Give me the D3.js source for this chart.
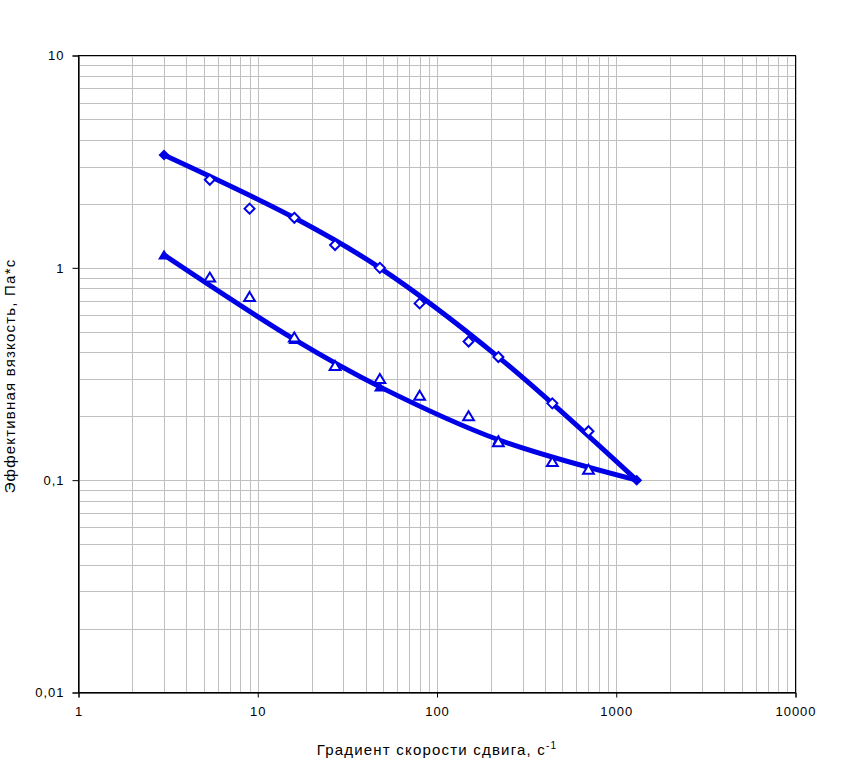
<!DOCTYPE html>
<html><head><meta charset="utf-8">
<script src="https://cdn.jsdelivr.net/npm/d3@7"></script>
<style>body{margin:0;background:#fff}svg{display:block}text{font-family:"Liberation Sans",Arial,sans-serif;fill:#000}</style>
</head><body>
<script>
// Measured data (open markers)
const dataX = [5.4, 9, 16, 27, 48, 80, 150, 220, 440, 700];
const diamondY = [2.6, 1.9, 1.72, 1.28, 1.0, 0.68, 0.45, 0.38, 0.23, 0.17];
const triangleY = [0.9, 0.73, 0.47, 0.345, 0.30, 0.25, 0.20, 0.151, 0.122, 0.112];
// Fitted curves (filled markers on thick lines)
const fitX = [3, 16, 48, 220, 1300];
const upperFitY = [3.4, 1.72, 1.0, 0.38, 0.1];
const lowerFitY = [1.15, 0.46, 0.275, 0.155, 0.1];
// Axis ticks
const xTicks = [1, 10, 100, 1000, 10000];
const xTickLabels = ["1", "10", "100", "1000", "10000"];
const yTicks = [0.01, 0.1, 1, 10];
const yTickLabels = ["0,01", "0,1", "1", "10"];

const W = 845, H = 760;
const L = 78.5, R = 795.5, T = 55.5, B = 692.5;
const blue = "#0000e6";

const svg = d3.select("body").append("svg").attr("width", W).attr("height", H);
const x = d3.scaleLog().domain([1, 10000]).range([L, R]);
const y = d3.scaleLog().domain([0.01, 10]).range([B, T]);

// minor + major grid
const xGrid = [], yGrid = [];
for (let d = 1; d < 10000; d *= 10) for (let k = 1; k <= 10; k++) xGrid.push(d * k);
for (let d = 0.01; d < 10; d *= 10) for (let k = 1; k <= 10; k++) yGrid.push(d * k);
const g = svg.append("g");
g.selectAll("line.gx").data(xGrid).enter().append("line")
  .attr("x1", d => Math.round(x(d)) + 0.5).attr("x2", d => Math.round(x(d)) + 0.5)
  .attr("y1", T).attr("y2", B).attr("stroke", "#c0c0c0").attr("stroke-width", 1);
g.selectAll("line.gy").data(yGrid).enter().append("line")
  .attr("y1", d => Math.round(y(d)) + 0.5).attr("y2", d => Math.round(y(d)) + 0.5)
  .attr("x1", L).attr("x2", R).attr("stroke", "#c0c0c0").attr("stroke-width", 1);

// border
svg.append("rect").attr("x", L).attr("y", T).attr("width", R - L).attr("height", B - T)
  .attr("fill", "none").attr("stroke", "#000").attr("stroke-width", 1);

// axes
const xAxis = d3.axisBottom(x).tickValues(xTicks).tickFormat((d, i) => xTickLabels[i]).tickSize(5).tickPadding(6);
const yAxis = d3.axisLeft(y).tickValues(yTicks).tickFormat((d, i) => yTickLabels[i]).tickSize(6).tickPadding(8);
const gx = svg.append("g").attr("transform", `translate(0,${B})`).call(xAxis);
const gy = svg.append("g").attr("transform", `translate(${L},0)`).call(yAxis);
[gx, gy].forEach(a => {
  a.select(".domain").attr("stroke", "#000");
  a.selectAll(".tick line").attr("stroke", "#000");
  a.selectAll("text").attr("font-size", 13).attr("font-family", "Liberation Sans, Arial").attr("fill", "#000").style("letter-spacing", "1px");
});
gx.selectAll("text").attr("dy", "0.95em");

// fitted lines
const line = d3.line().x(d => x(d[0])).y(d => y(d[1])).curve(d3.curveCatmullRom.alpha(0.5));
const upper = fitX.map((v, i) => [v, upperFitY[i]]);
const lower = fitX.map((v, i) => [v, lowerFitY[i]]);

const triPath = s => `M0,${-s * 0.55}L${s * 0.6},${s * 0.45}L${-s * 0.6},${s * 0.45}Z`;
const diaPath = s => `M0,${-s / 2}L${s / 2},0L0,${s / 2}L${-s / 2},0Z`;

svg.append("path").datum(lower).attr("d", line).attr("fill", "none").attr("stroke", blue).attr("stroke-width", 5).attr("stroke-linejoin", "round");
svg.selectAll("path.ft").data(lower.slice(0, -1)).enter().append("path")
  .attr("transform", d => `translate(${x(d[0])},${y(d[1])})`).attr("d", triPath(10)).attr("fill", blue);

svg.append("path").datum(upper).attr("d", line).attr("fill", "none").attr("stroke", blue).attr("stroke-width", 5).attr("stroke-linejoin", "round");
svg.selectAll("path.fd").data(upper).enter().append("path")
  .attr("transform", d => `translate(${x(d[0])},${y(d[1])})`).attr("d", diaPath(11)).attr("fill", blue);

// open markers
svg.selectAll("path.od").data(dataX.map((v, i) => [v, diamondY[i]])).enter().append("path")
  .attr("transform", d => `translate(${x(d[0])},${y(d[1])})`).attr("d", diaPath(10))
  .attr("fill", "#fff").attr("stroke", blue).attr("stroke-width", 2);
svg.selectAll("path.ot").data(dataX.map((v, i) => [v, triangleY[i]])).enter().append("path")
  .attr("transform", d => `translate(${x(d[0])},${y(d[1])})`).attr("d", triPath(9))
  .attr("fill", "#fff").attr("stroke", blue).attr("stroke-width", 2);

// titles
const xt = svg.append("text").attr("x", 437).attr("y", 755).attr("text-anchor", "middle").attr("font-size", 15).style("letter-spacing", "1.2px");
xt.append("tspan").text("Градиент скорости сдвига, с");
xt.append("tspan").attr("dy", -6).attr("font-size", 10).text("-1");
svg.append("text").attr("transform", "translate(15,376) rotate(-90)").attr("text-anchor", "middle")
  .attr("font-size", 15).style("letter-spacing", "1.2px").text("Эффективная вязкость, Па*с");
</script>
</body></html>
